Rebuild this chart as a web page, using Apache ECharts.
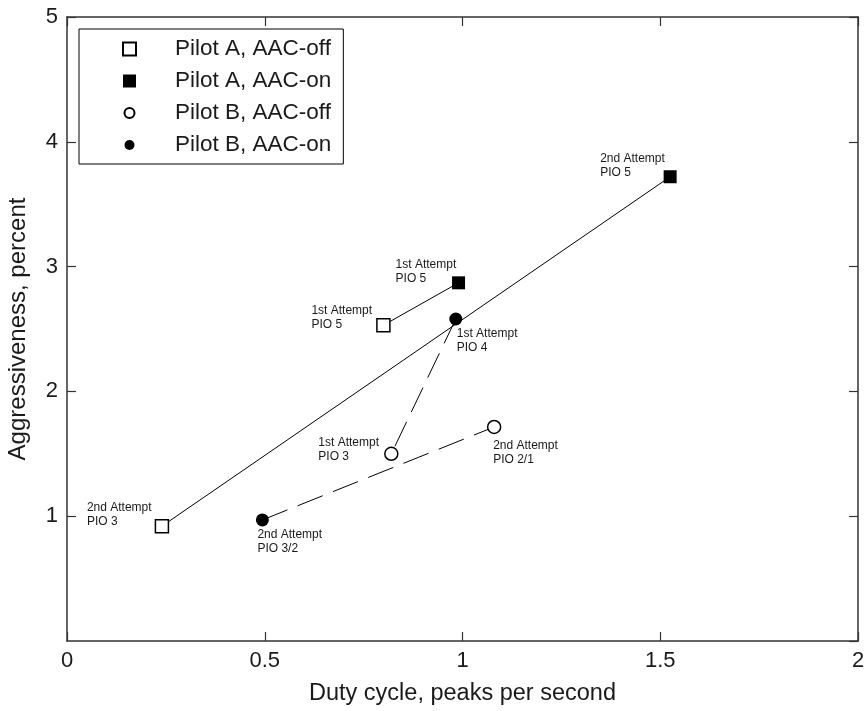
<!DOCTYPE html>
<html>
<head>
<meta charset="utf-8">
<script src="https://cdn.jsdelivr.net/npm/echarts@6/dist/echarts.min.js"></script>
<style>html,body{margin:0;padding:0;background:#fff;}#c{width:866px;height:711px;}</style>
</head>
<body>
<div id="c"></div>
<script>
// ---- data ----
var seriesNames = ['Pilot A, AAC-off', 'Pilot A, AAC-on', 'Pilot B, AAC-off', 'Pilot B, AAC-on'];
// index 0 = 1st attempt, index 1 = 2nd attempt
var pilotAOff = [[0.80, 2.53], [0.24, 0.92]];
var pilotAOn  = [[0.99, 2.87], [1.525, 3.72]];
var pilotBOff = [[0.82, 1.50], [1.08, 1.715]];
var pilotBOn  = [[0.983, 2.58], [0.494, 0.97]];
var pilotAOffLabels = ['1st Attempt\nPIO 5', '2nd Attempt\nPIO 3'];
var pilotAOnLabels  = ['1st Attempt\nPIO 5', '2nd Attempt\nPIO 5'];
var pilotBOffLabels = ['1st Attempt\nPIO 3', '2nd Attempt\nPIO 2/1'];
var pilotBOnLabels  = ['1st Attempt\nPIO 4', '2nd Attempt\nPIO 3/2'];
var xTicks = [0, 0.5, 1, 1.5, 2];
var yTicks = [0, 1, 2, 3, 4, 5];

// ---- styles (label offsets relative to marker centre) ----
var offsets = {
  aoff: [[-72, -22], [-75, -25]],
  aon:  [[-63, -25], [-70, -25]],
  boff: [[-73, -18], [-1, 12]],
  bon:  [[1, 8], [-5, 8]]
};
var FONT = 'Liberation Sans, Arial, sans-serif';
var smallCircle = 'path://M0,0M13,13M1.5,6.5A5,5,0,1,1,11.5,6.5A5,5,0,1,1,1.5,6.5Z';

function pts(arr, labels, offs) {
  return arr.map(function (p, i) {
    return {
      value: p,
      label: {
        show: true, formatter: labels[i], position: 'inside',
        align: 'left', verticalAlign: 'top', offset: offs[i],
        fontSize: 12, lineHeight: 14, color: '#1a1a1a', fontFamily: FONT
      }
    };
  });
}
function scatter(name, arr, labels, offs, symbol, filled) {
  return {
    name: name, type: 'scatter', symbol: symbol, symbolSize: 13, z: 5,
    itemStyle: { color: filled ? '#000' : '#fff', borderColor: '#000', borderWidth: filled ? 0 : 1.5, opacity: 1 },
    emphasis: { disabled: true },
    data: pts(arr, labels, offs)
  };
}
function link(a, b, dashed) {
  return {
    type: 'line', symbol: 'none', z: 2, silent: true,
    lineStyle: { color: '#000', width: 1, type: dashed ? [27, 11] : 'solid' },
    data: [a, b]
  };
}

var series = [
  link(pilotAOff[0], pilotAOn[0], false),
  link(pilotAOff[1], pilotAOn[1], false),
  link(pilotBOn[0], pilotBOff[0], true),
  link(pilotBOn[1], pilotBOff[1], true),
  scatter(seriesNames[0], pilotAOff, pilotAOffLabels, offsets.aoff, 'rect', false),
  scatter(seriesNames[1], pilotAOn, pilotAOnLabels, offsets.aon, 'rect', true),
  scatter(seriesNames[2], pilotBOff, pilotBOffLabels, offsets.boff, 'circle', false),
  scatter(seriesNames[3], pilotBOn, pilotBOnLabels, offsets.bon, 'circle', true)
];

var axisLine = { show: true, onZero: false, lineStyle: { color: '#333', width: 1.5 } };
var axisTick = { show: true, inside: true, length: 9, lineStyle: { color: '#333', width: 1.2 } };

var chart = echarts.init(document.getElementById('c'), null, { renderer: 'canvas' });
chart.setOption({
  animation: false,
  backgroundColor: '#fff',
  textStyle: { fontFamily: FONT },
  grid: { left: 67, right: 8, top: 17, bottom: 70, containLabel: false, outerBoundsMode: 'none' },
  legend: {
    orient: 'vertical', left: 79, top: 29,
    data: [
      { name: seriesNames[0] },
      { name: seriesNames[1] },
      { name: seriesNames[2], icon: smallCircle },
      { name: seriesNames[3], icon: smallCircle }
    ],
    itemWidth: 13, itemHeight: 13, itemGap: 8,
    padding: [8, 12, 7, 43],
    borderColor: '#000', borderWidth: 1, borderRadius: 0,
    backgroundColor: '#fff',
    selectedMode: false,
    textStyle: { fontSize: 22.5, color: '#1a1a1a', lineHeight: 24, padding: [0, 0, 0, 34], fontFamily: FONT }
  },
  xAxis: [{
    type: 'value', min: xTicks[0], max: xTicks[xTicks.length - 1], interval: 0.5,
    name: 'Duty cycle, peaks per second', nameLocation: 'middle', nameGap: 41,
    nameTextStyle: { fontSize: 23.5, color: '#1a1a1a' },
    axisLine: axisLine, axisTick: axisTick, splitLine: { show: false },
    axisLabel: { fontSize: 22, color: '#1a1a1a', margin: 9, formatter: function (v) { return String(v); } }
  }, {
    type: 'value', position: 'top', min: xTicks[0], max: xTicks[xTicks.length - 1], interval: 0.5,
    axisLine: axisLine, axisTick: axisTick, splitLine: { show: false }, axisLabel: { show: false }
  }],
  yAxis: [{
    type: 'value', min: yTicks[0], max: yTicks[yTicks.length - 1], interval: 1,
    name: 'Aggressiveness, percent', nameLocation: 'middle', nameGap: 37,
    nameTextStyle: { fontSize: 24, color: '#1a1a1a' },
    axisLine: axisLine, axisTick: axisTick, splitLine: { show: false },
    axisLabel: { fontSize: 22, color: '#1a1a1a', margin: 9, showMinLabel: false }
  }, {
    type: 'value', position: 'right', min: yTicks[0], max: yTicks[yTicks.length - 1], interval: 1,
    axisLine: axisLine, axisTick: axisTick, splitLine: { show: false }, axisLabel: { show: false }
  }],
  series: series
});
</script>
</body>
</html>
